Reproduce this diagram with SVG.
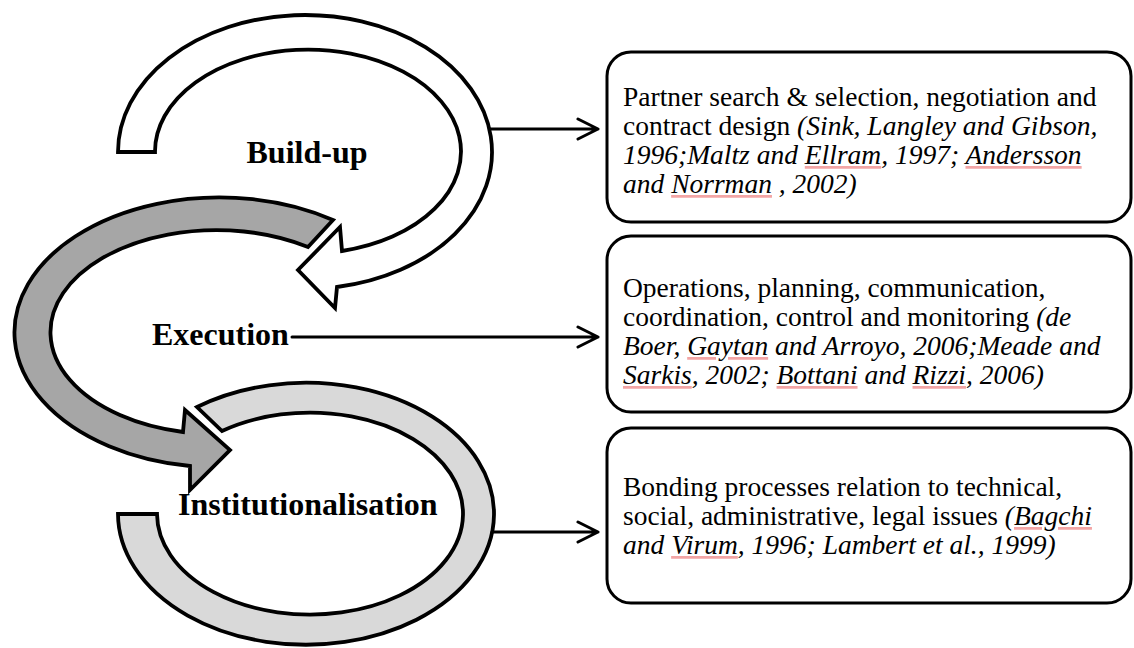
<svg xmlns="http://www.w3.org/2000/svg" width="1134" height="648" viewBox="0 0 1134 648">
  <style>
    .ring { stroke: #000; stroke-width: 3.8; stroke-linejoin: miter; }
    .white { fill: #ffffff; }
    .mid { fill: #a6a6a6; }
    .light { fill: #d9d9d9; }
    .stage { font-family: "Liberation Serif", "Times New Roman", serif; font-weight: bold; font-size: 32px; fill: #000; }
    .card { fill: #fff; stroke: #000; stroke-width: 3; }
    .body { font-family: "Liberation Serif", "Times New Roman", serif; font-size: 27.5px; fill: #000; }
    .it { font-style: italic; }
    .sp { fill: #f3a5a5; text-decoration: underline; }
    .k { fill: #000; }
    .link { fill: none; stroke: #000; stroke-width: 3; stroke-linecap: round; stroke-linejoin: round; }
  </style>

  <!-- Stage 1: Build-up (white circular arrow) -->
  <g id="node-buildup">
    <path class="ring white" d="M118,152 A187,137 0 1 1 337,287 L335,308 L298,270 L340,227 L342,251 A153,102 0 1 0 155,152 Z"/>
    <text class="stage" x="307" y="163" text-anchor="middle">Build-up</text>
  </g>

  <!-- Stage 2: Execution (mid-grey circular arrow) -->
  <g id="node-execution">
    <path class="ring mid" d="M333,220 A205,135 0 1 0 190,466 L190,490 L230,450 L185,410 L183,432 A166,102 0 1 1 308,247 Z"/>
    <text class="stage" x="152" y="345">Execution</text>
  </g>

  <!-- Stage 3: Institutionalisation (light-grey ring) -->
  <g id="node-institutionalisation">
    <path class="ring light" d="M197,407 A188,131 0 1 1 118,514 L157,514 A153,101 0 1 0 222,431 Z"/>
    <text class="stage" x="178" y="515">Institutionalisation</text>
  </g>

  <!-- Description cards -->
  <g id="box-buildup">
    <rect class="card" x="607" y="52" width="524" height="170" rx="24"/>
    <text class="body" x="623" y="106">Partner search &amp; selection, negotiation and</text>
    <text class="body" x="623" y="135">contract design <tspan class="it">(Sink, Langley and Gibson,</tspan></text>
    <text class="body it" x="623" y="164">1996;Maltz and <tspan class="sp"><tspan class="k">Ellram</tspan></tspan>, 1997; <tspan class="sp"><tspan class="k">Andersson</tspan></tspan></text>
    <text class="body it" x="623" y="193">and <tspan class="sp"><tspan class="k">Norrman</tspan></tspan> , 2002)</text>
  </g>

  <g id="box-execution">
    <rect class="card" x="607" y="236" width="524" height="176" rx="24"/>
    <text class="body" x="623" y="297">Operations, planning, communication,</text>
    <text class="body" x="623" y="326">coordination, control and monitoring <tspan class="it">(de</tspan></text>
    <text class="body it" x="623" y="355">Boer, <tspan class="sp"><tspan class="k">Gaytan</tspan></tspan> and Arroyo, 2006;Meade and</text>
    <text class="body it" x="623" y="384"><tspan class="sp"><tspan class="k">Sarkis</tspan></tspan>, 2002; <tspan class="sp"><tspan class="k">Bottani</tspan></tspan> and <tspan class="sp"><tspan class="k">Rizzi</tspan></tspan>, 2006)</text>
  </g>

  <g id="box-institutionalisation">
    <rect class="card" x="607" y="428" width="524" height="175" rx="24"/>
    <text class="body" x="623" y="496">Bonding processes relation to technical,</text>
    <text class="body" x="623" y="525">social, administrative, legal issues <tspan class="it">(<tspan class="sp"><tspan class="k">Bagchi</tspan></tspan></tspan></text>
    <text class="body it" x="623" y="554">and <tspan class="sp"><tspan class="k">Virum</tspan></tspan>, 1996; Lambert et al., 1999)</text>
  </g>

  <!-- Connectors from each stage to its card -->
  <g id="connectors">
    <path class="link" d="M490,129 H598 M578,119 L598,129 L578,139"/>
    <path class="link" d="M292,337 H598 M578,327 L598,337 L578,347"/>
    <path class="link" d="M492,532 H598 M578,522 L598,532 L578,542"/>
  </g>
</svg>
